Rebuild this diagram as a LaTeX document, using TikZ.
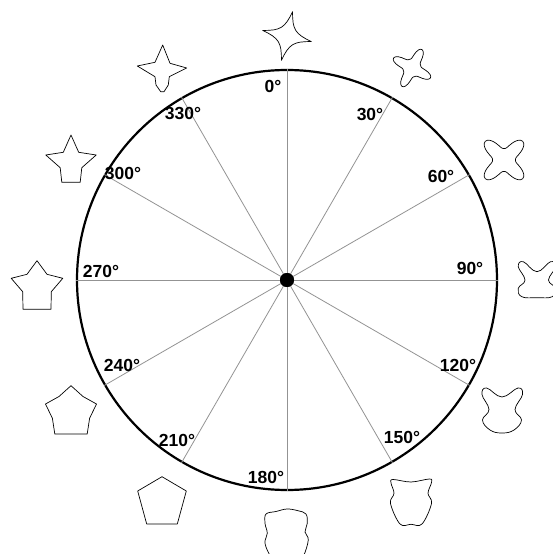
\documentclass[tikz,border=0pt]{standalone}
\usepackage{fontspec}
\setmainfont{Liberation Sans}
\usepackage{tikz}

\begin{document}
\begin{tikzpicture}[x=1pt,y=1pt,
  dial/.style={circle,draw,line width=2.2pt,minimum size=420pt,inner sep=0pt},
  hub/.style={circle,fill,inner sep=0pt,minimum size=14pt},
  spoke/.style={draw=gray!85,line width=0.8pt},
  deg/.style={font=\fontsize{17.5}{18}\selectfont\bfseries,inner sep=0pt},
  morph/.style={draw,line width=0.7pt,line join=round}]
\useasboundingbox (-287,-274) rectangle (265,280);
\node[dial] (dial) at (0,0) {};
\node[hub] (hub) at (0,0) {};
\foreach \a in {0,30,...,330}
  \draw[spoke] (hub.center) -- (dial.{90-\a});
\node[hub] at (hub) {};
% angle labels
\foreach \a/\x/\y in {0/-14/194,30/83/166,60/154/104,90/183/12,
    120/171/-85,150/115/-157,180/-21/-197,210/-110/-160,
    240/-165/-85,270/-186/9,300/-164/107,330/-104/167}
  \node[deg] (l\a) at (\x,\y) {\a°};
% shapes round the dial
\draw[morph,shift={(0,244)}] (5.6,24.4) .. controls (5.34,6.48) and (8.16,1.98) .. (24.4,-5.6)
  .. controls (6.48,-5.34) and (1.98,-8.16) .. (-5.6,-24.4)
  .. controls (-5.34,-6.48) and (-8.16,-1.98) .. (-24.4,5.6)
  .. controls (-6.48,5.34) and (-1.98,8.16) .. (5.6,24.4) -- cycle;
\draw[morph,shift={(125,212)}] plot[smooth cycle,domain=0:355,samples=72,variable=\t]
  ({\t}:{9+12*((1+cos(4*(\t-62)))/2)^2});
\draw[morph,shift={(217,120)}] plot[smooth cycle,domain=0:355,samples=72,variable=\t]
  ({\t}:{11.5+15*((1+cos(4*(\t-45)))/2)^1.5});
\draw[morph,shift={(250,1)}] plot[smooth cycle,tension=0.7] coordinates {(-13.7,17.3) (0,7.3)
  (13.5,17.3) (18.7,12.3) (11.5,-1) (18.7,-9.3) (15.3,-17.7) (0,-18.7) (-15.3,-17.7)
  (-18.7,-9.3) (-12,-1) (-18.7,12.3)};
\draw[morph,shift={(215,-128)}] plot[smooth cycle,tension=0.7] coordinates {(-15.3,20) (0,11)
  (16,20) (20.5,13.5) (13,-1.5) (19.5,-12) (12,-22) (0,-25) (-12,-22) (-19.5,-12)
  (-13,-1.5) (-20,13.5)};
\draw[morph,shift={(124,-220)}] plot[smooth cycle,tension=0.6] coordinates {(-18,20.5) (0,18)
  (18.5,21) (20.5,17.5) (17,6.7) (20.5,-3.5) (11,-24) (0,-24.3) (-11,-24) (-20.5,-3.5)
  (-17,6.7) (-20,17)};
\draw[morph,shift={(0,-253)}] plot[smooth cycle,tension=0.6] coordinates {(-21,19) (-11,21.5)
  (0,24) (11,22.3) (19,19) (20.3,9.7) (18,1) (21.3,-7) (16,-24) (8,-31) (-8,-31)
  (-16,-24) (-22,-10.3) (-19.7,-0.3) (-22,9.7)};
\draw[morph,shift={(-125,-220)}] (0,23.3) -- (24.3,9) -- (15.3,-24) -- (-15.3,-24)
  -- (-24.3,9) -- cycle;
\draw[morph,shift={(-216,-130)}] (0,24.3) -- (12,13.5) -- (25.5,6) -- (18.6,-8.3)
  -- (16.2,-24) -- (-16.2,-24) -- (-18.6,-8.3) -- (-25.5,6) -- (-12,13.5) -- cycle;
\draw[morph,shift={(-250,-5)}] (0,24.3) -- (10,10.7) -- (25.8,6.7) -- (14.3,-6.7)
  -- (14,-24.3) -- (-14,-24.3) -- (-14.3,-6.7) -- (-25.8,6.7) -- (-10,10.7) -- cycle;
\draw[morph,shift={(-216,120)}] (0,25) -- (7.7,7.7) -- (25.2,5) -- (10.8,-7.7)
  -- (9.2,-22.3) -- (-9.2,-22.3) -- (-10.8,-7.7) -- (-25.2,5) -- (-7.7,7.7) -- cycle;
\draw[morph,shift={(-125,212)}] (0.7,23) -- (8,4.7) -- (24.7,0) -- (7.3,-8.7) -- (6.3,-17)
  -- (2,-23.7) -- (-1.3,-23.7) -- (-6,-17) -- (-7,-8.7) -- (-24.7,2) -- (-7,5.7) -- cycle;
\end{tikzpicture}
\end{document}
